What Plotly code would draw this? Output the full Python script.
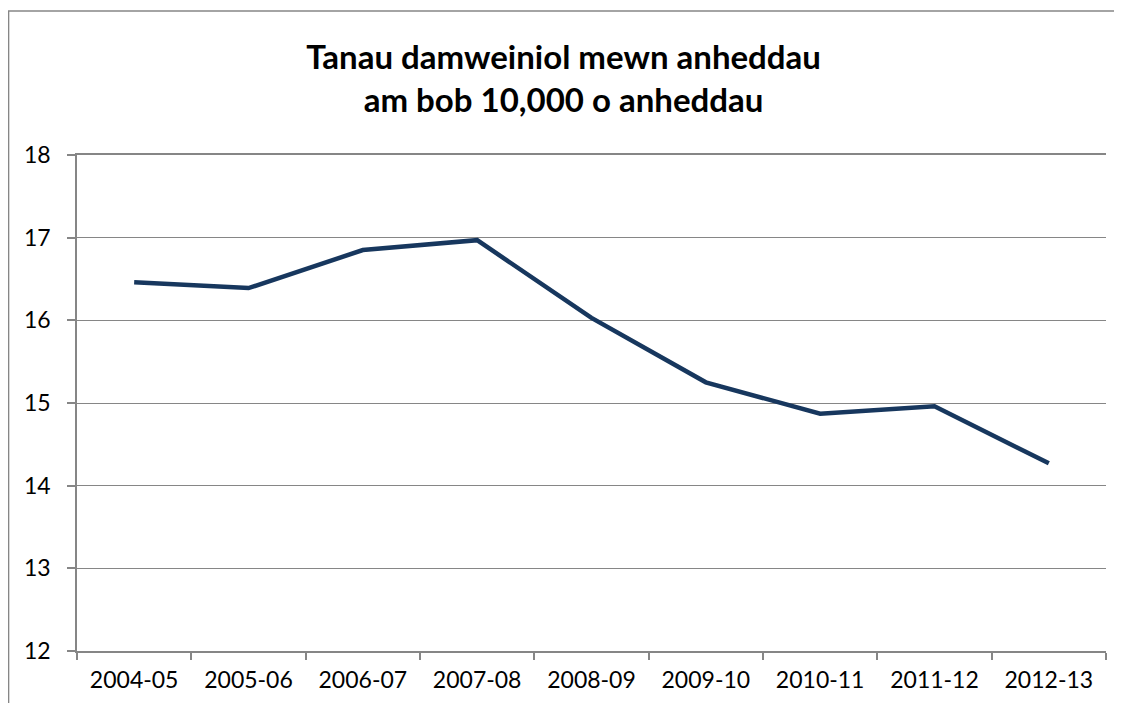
import plotly.graph_objects as go

# Data
blynyddoedd = ["2004-05", "2005-06", "2006-07", "2007-08", "2008-09",
               "2009-10", "2010-11", "2011-12", "2012-13"]
tanau = [16.46, 16.39, 16.85, 16.97, 16.03, 15.25, 14.87, 14.96, 14.27]

grid_col = "#868686"
font_fam = "Lato, 'Open Sans', sans-serif"

fig = go.Figure()

fig.add_trace(
    go.Scatter(
        x=blynyddoedd,
        y=tanau,
        mode="lines",
        line=dict(color="#17375E", width=4.5),
        hoverinfo="x+y",
    )
)

# page body has an 8px margin, so the figure is sized to fit inside it
fig.update_layout(
    width=1106,
    height=695,
    margin=dict(l=69, r=8, t=147, b=52, autoexpand=False),
    paper_bgcolor="white",
    plot_bgcolor="white",
    showlegend=False,
    title=dict(
        text="Tanau damweiniol mewn anheddau<br>am bob 10,000 o anheddau",
        x=0.5023,
        xanchor="center",
        y=0.912,
        yanchor="top",
        font=dict(family=font_fam, size=33, color="black", weight="bold"),
    ),
    font=dict(family=font_fam, size=23, color="black"),
)

fig.update_xaxes(
    type="category",
    range=[-0.5, len(blynyddoedd) - 0.5],
    automargin=False,
    showgrid=False,
    showline=True,
    mirror=True,
    linecolor=grid_col,
    linewidth=1.5,
    ticks="outside",
    tickson="boundaries",
    ticklen=7,
    tickcolor=grid_col,
    tickwidth=1.5,
    ticklabelstandoff=8,
    tickfont=dict(size=23),
)

fig.update_yaxes(
    range=[12, 18],
    dtick=1,
    automargin=False,
    showgrid=True,
    gridcolor=grid_col,
    gridwidth=1.2,
    showline=True,
    linecolor=grid_col,
    linewidth=1.5,
    ticks="outside",
    ticklen=8,
    tickcolor=grid_col,
    tickwidth=1.5,
    ticklabelstandoff=12,
    tickfont=dict(size=23),
    zeroline=False,
)

# outer chart frame
fig.add_shape(
    type="rect",
    xref="paper", yref="paper",
    x0=-0.0665, x1=1.03, y0=-0.2, y1=1.2903,
    line=dict(color=grid_col, width=1.5),
    fillcolor="rgba(0,0,0,0)",
    layer="below",
)

fig.write_html("out.html")
